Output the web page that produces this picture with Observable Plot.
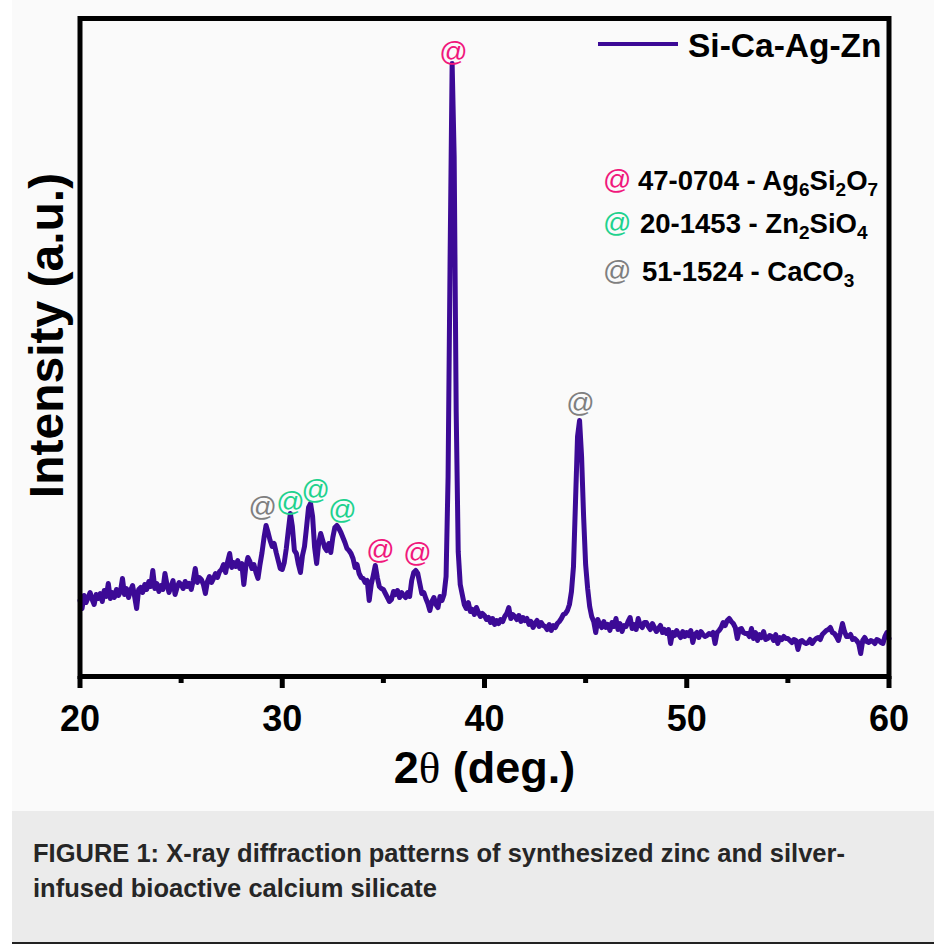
<!DOCTYPE html>
<html>
<head>
<meta charset="utf-8">
<script src="https://cdn.jsdelivr.net/npm/d3@7"></script>
<script src="https://cdn.jsdelivr.net/npm/@observablehq/plot@0.6"></script>
<style>
  html, body { margin: 0; padding: 0; background: #ffffff; }
  body { width: 934px; height: 946px; position: relative; overflow: hidden;
         font-family: "Liberation Sans", Arial, Helvetica, sans-serif; }
  #bg { position: absolute; left: 12px; top: 0; width: 922px; height: 811px; background: #fafafa; }
  #chart { position: absolute; left: 0; top: 0; }
  #chart svg [aria-label="x-axis tick label"] text { font-weight: bold; }
  .ov { position: absolute; line-height: 1; white-space: nowrap; color: #000; }
  .lg { font-weight: bold; }
  .at { font-weight: normal; }
  .sb { font-size: 19px; position: relative; top: 6px; }
  #caption { position: absolute; left: 12px; top: 811px; width: 922px; height: 131px;
             background: #ebebeb; border-bottom: 2px solid #222; box-sizing: content-box; }
  #caption div { position: absolute; left: 21px; top: 25px; font-weight: bold; font-size: 25.5px;
                 line-height: 35px; color: #262626; white-space: nowrap; }
</style>
</head>
<body>
<div id="bg"></div>
<div id="chart"></div>
<div id="legend"></div>
<div id="caption"><div>FIGURE 1: X-ray diffraction patterns of synthesized zinc and silver-<br>infused bioactive calcium silicate</div></div>
<script>
// ---- data (2θ sampled every 0.1°, intensity in arbitrary units) ----
const seriesName = "Si-Ca-Ag-Zn";
const intensity = [
  76, 68, 81, 74, 79, 84, 77, 72, 82, 78,
  83, 75, 86, 80, 93, 78, 84, 79, 87, 81,
  85, 98, 82, 88, 79, 86, 91, 80, 68, 87,
  89, 84, 92, 87, 95, 90, 106, 88, 93, 85,
  91, 87, 103, 92, 84, 90, 96, 82, 89, 94,
  92, 88, 95, 90, 93, 87, 96, 108, 94, 99,
  97, 92, 83, 95, 100, 94, 98, 103, 99, 105,
  107, 112, 104, 115, 123, 109, 114, 110, 116, 108,
  113, 92, 110, 119, 115, 108, 112, 104, 98, 112,
  124, 139, 151, 144, 136, 130, 133, 124, 116, 108,
  107, 114, 128, 146, 163, 150, 126, 123, 112, 104,
  121, 130, 149, 169, 173, 160, 129, 113, 133, 143,
  136, 129, 126, 133, 124, 139, 149, 151, 148, 144,
  139, 134, 128, 126, 123, 118, 109, 112, 103, 99,
  98, 94, 96, 76, 92, 101, 111, 99, 90, 88,
  87, 83, 79, 75, 77, 85, 82, 86, 79, 84,
  81, 79, 84, 80, 96, 104, 106, 103, 93, 83,
  84, 78, 73, 66, 75, 79, 72, 69, 80, 76,
  82, 100, 200, 420, 613, 520, 265, 125, 92, 82,
  72, 68, 74, 65, 67, 62, 69, 64, 60, 63,
  61, 57, 59, 54, 58, 52, 56, 53, 57, 55,
  60, 63, 69, 58, 62, 60, 57, 61, 55, 59,
  56, 58, 52, 55, 49, 53, 56, 50, 54, 51,
  50, 47, 52, 46, 51, 49, 53, 55, 58, 62,
  63, 66, 72, 85, 110, 175, 240, 256, 220, 160,
  112, 88, 70, 60, 55, 44, 57, 52, 49, 55,
  49, 52, 46, 54, 50, 58, 47, 53, 45, 51,
  50, 55, 59, 48, 52, 47, 58, 51, 49, 54,
  54, 50, 47, 53, 49, 45, 48, 51, 44, 47,
  43, 47, 33, 44, 41, 46, 42, 39, 45, 40,
  44, 41, 46, 34, 42, 44, 39, 45, 42, 40,
  41, 43, 42, 44, 33, 44, 46, 49, 54, 51,
  56, 58, 55, 53, 49, 38, 47, 48, 44, 43,
  43, 40, 48, 38, 44, 36, 42, 39, 45, 37,
  38, 41, 40, 36, 42, 33, 39, 37, 40, 38,
  38, 36, 34, 37, 36, 27, 35, 36, 34, 33,
  34, 37, 33, 36, 38, 39, 37, 42, 44, 46,
  47, 49, 44, 43, 40, 36, 44, 53, 45, 40,
  40, 42, 37, 38, 36, 33, 23, 36, 39, 35,
  34, 36, 35, 33, 37, 36, 34, 33, 40, 44,
  38
];
const twoTheta = intensity.map((_, i) => Math.round(200 + i) / 10);

// peak markers (@) : position and phase
const markerTheta = [29.03, 30.41, 31.65, 32.98, 34.86, 36.69, 38.47, 44.75];
const markerHeight = [169, 174, 186, 166, 126, 123, 624, 273];
const markerPhase = ["CaCO3", "Zn2SiO4", "Zn2SiO4", "Zn2SiO4", "Ag6Si2O7", "Ag6Si2O7", "Ag6Si2O7", "CaCO3"];

// phase legend entries
const phaseNames = ["Ag6Si2O7", "Zn2SiO4", "CaCO3"];
const phaseCards = ["47-0704", "20-1453", "51-1524"];
const phaseColors = ["#f0187c", "#1fd28e", "#7f7f7f"];

const xTicks = [20, 30, 40, 50, 60];
const xMinorTicks = [25, 35, 45, 55];
const xLabel = "2θ (deg.)";
const yLabel = "Intensity (a.u.)";

const lineColor = "#3c0a96";

// ---- build ----
const data = twoTheta.map((t, i) => ({t, v: intensity[i]}));
const markers = markerTheta.map((t, i) => ({t, v: markerHeight[i], phase: markerPhase[i]}));
const colorOf = Object.fromEntries(phaseNames.map((p, i) => [p, phaseColors[i]]));

const chart = Plot.plot({
  width: 934,
  height: 811,
  marginLeft: 79.5,
  marginRight: 45.5,
  marginTop: 18,
  marginBottom: 135,
  style: {background: "transparent", fontFamily: "'Liberation Sans', Arial, Helvetica, sans-serif", color: "#000"},
  x: {domain: [20, 60]},
  y: {domain: [0, 658], axis: null},
  marks: [
    Plot.line(data, {x: "t", y: "v", stroke: lineColor, strokeWidth: 5, strokeLinejoin: "round", strokeLinecap: "round"}),
    Plot.text(markers, {x: "t", y: "v", text: () => "@", fill: d => colorOf[d.phase], fontSize: 28, lineAnchor: "middle"}),
    Plot.frame({stroke: "#000", strokeWidth: 5}),
    Plot.axisX({ticks: xTicks, tickSize: 12, tickPadding: 17, strokeWidth: 5, stroke: "#000", fontSize: 36, fill: "#000", label: null}),
    Plot.axisX({ticks: xMinorTicks, tickSize: 7, strokeWidth: 5, stroke: "#000", tickFormat: () => "", label: null}),
    Plot.text([xLabel], {frameAnchor: "bottom", dy: 75, lineAnchor: "top", fontSize: 45, fontWeight: "bold", fill: "#000"}),
    Plot.text([yLabel], {frameAnchor: "left", textAnchor: "middle", rotate: -90, dx: -32, dy: -12, fontSize: 48, fontWeight: "bold", fill: "#000"})
  ]
});
document.getElementById("chart").appendChild(chart);

// theta glyph in serif, like the original
d3.select(chart).selectAll("text").filter(function() { return this.textContent === xLabel; })
  .each(function() {
    const t = d3.select(this);
    t.text(null);
    t.append("tspan").text("2");
    t.append("tspan").attr("font-family", "'Liberation Serif', 'DejaVu Serif', serif").attr("font-weight", "normal").text("θ");
    t.append("tspan").text(" (deg.)");
  });

// ---- legends (HTML overlay) ----
const legend = document.getElementById("legend");
function place(html, left, baseline, fs, cls) {
  const d = document.createElement("div");
  d.className = "ov " + (cls || "");
  d.style.left = left + "px";
  d.style.top = (baseline - 0.847 * fs) + "px";
  d.style.fontSize = fs + "px";
  d.innerHTML = html;
  legend.appendChild(d);
  return d;
}
// series legend
const sw = document.createElement("div");
sw.style.cssText = `position:absolute;left:598px;top:42px;width:80px;height:4px;background:${lineColor};`;
legend.appendChild(sw);
place(seriesName, 688, 57, 33.5).style.fontWeight = "bold";

// phase legend
function formula(name) { return name.replace(/(\d)/g, '<span class="sb">$1</span>'); }
const rowBase = [190, 233, 281];
const rowText = [638, 640, 642];
phaseNames.forEach((p, i) => {
  const a = place("@", 603, rowBase[i], 28, "at");
  a.style.color = phaseColors[i];
  place(`${phaseCards[i]} - ${formula(p)}`, rowText[i], rowBase[i], 27.5, "lg");
});
</script>
</body>
</html>
